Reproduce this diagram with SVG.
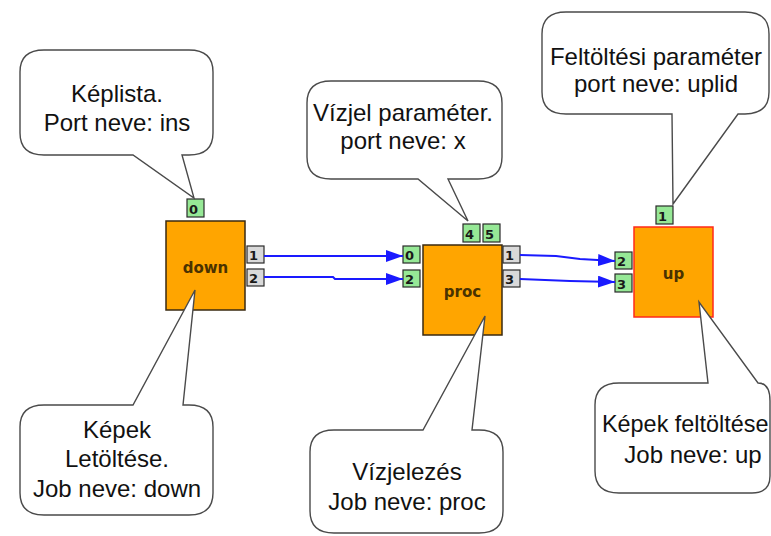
<svg xmlns="http://www.w3.org/2000/svg" width="771" height="536" viewBox="0 0 771 536">
<defs>
<style>
.block{fill:#ffa500;stroke:#3a2a10;stroke-width:1.5}
.block-up{fill:#ffa500;stroke:#ff2a1a;stroke-width:1.5}
.pin{fill:#96e896;stroke:#2a2a2a;stroke-width:1.2}
.pout{fill:#d9d9d9;stroke:#2a2a2a;stroke-width:1.2}
.pl{font-family:"DejaVu Sans",sans-serif;font-size:13px;font-weight:bold;fill:#1a1a1a}
.bl{font-family:"DejaVu Sans",sans-serif;font-size:15px;font-weight:bold;fill:#4a3200;text-anchor:middle}
.bubble{fill:#ffffff;stroke:#4a4a4a;stroke-width:1.4;stroke-linejoin:miter}
.bt{font-family:"Liberation Sans",Arial,sans-serif;font-size:24px;fill:#111;text-anchor:middle}
.conn{fill:none;stroke:#1a1aff;stroke-width:2}
</style>
<marker id="arr" markerUnits="userSpaceOnUse" markerWidth="18" markerHeight="13" refX="17" refY="6" orient="auto">
<path d="M0,0 L17,6 L0,12 Z" fill="#1a1aff"/>
</marker>
</defs>
<rect width="771" height="536" fill="#ffffff"/>

<g id="node-down">
<rect class="block" x="166" y="221" width="79" height="89"/>
<text class="bl" x="205.5" y="273">down</text>
<rect class="pin" x="187" y="199" width="17" height="18"/><text class="pl" x="189" y="214">0</text>
<rect class="pout" x="247" y="246" width="17" height="17"/><text class="pl" x="249" y="260">1</text>
<rect class="pout" x="247" y="269" width="17" height="17"/><text class="pl" x="249" y="283">2</text>
</g>

<g id="node-proc">
<rect class="block" x="423" y="245" width="79" height="90"/>
<text class="bl" x="462.5" y="297">proc</text>
<rect class="pin" x="403" y="246" width="17" height="17"/><text class="pl" x="405" y="260">0</text>
<rect class="pin" x="403" y="270" width="17" height="17"/><text class="pl" x="405" y="284">2</text>
<rect class="pin" x="463" y="224" width="17" height="18"/><text class="pl" x="465" y="239">4</text>
<rect class="pin" x="483" y="224" width="17" height="18"/><text class="pl" x="485" y="239">5</text>
<rect class="pout" x="503" y="246" width="17" height="17"/><text class="pl" x="505" y="260">1</text>
<rect class="pout" x="503" y="270" width="17" height="17"/><text class="pl" x="505" y="284">3</text>
</g>

<g id="node-up">
<rect class="block-up" x="634" y="227" width="79" height="90"/>
<text class="bl" x="673.5" y="279">up</text>
<rect class="pin" x="656" y="206" width="17" height="18"/><text class="pl" x="658" y="221">1</text>
<rect class="pin" x="615" y="252" width="17" height="17"/><text class="pl" x="617" y="266">2</text>
<rect class="pin" x="615" y="274" width="17" height="18"/><text class="pl" x="617" y="289">3</text>
</g>

<g id="connectors">
<path class="conn" d="M264,256 H403" marker-end="url(#arr)"/>
<path class="conn" d="M264,277 H333 L335,279 H403" marker-end="url(#arr)"/>
<path class="conn" d="M520,255 L556,256 L580,259 L615,261" marker-end="url(#arr)"/>
<path class="conn" d="M520,279 L545,280 L570,281 L615,282" marker-end="url(#arr)"/>
</g>

<g id="callout-kepilista">
<path class="bubble" d="M44,50 H189 Q213,50 213,72 V133 Q213,155 189,155 H182 L194,198 L133,155 H44 Q20,155 20,133 V72 Q20,50 44,50 Z"/>
<text class="bt" x="117" y="102">Képlista.</text>
<text class="bt" x="117" y="131">Port neve: ins</text>
</g>

<g id="callout-vizjel">
<path class="bubble" d="M331,81 H478 Q502,81 502,103 V157 Q502,179 478,179 H448 L468,221 L418,179 H331 Q307,179 307,157 V103 Q307,81 331,81 Z"/>
<text class="bt" x="403" y="121">Vízjel paraméter.</text>
<text class="bt" x="403" y="149">port neve: x</text>
</g>

<g id="callout-feltoltesi">
<path class="bubble" d="M566,12 H745 Q769,12 769,34 V92 Q769,114 745,114 H738 L673,204 L672,114 H566 Q542,114 542,92 V34 Q542,12 566,12 Z"/>
<text class="bt" x="656" y="65">Feltöltési paraméter</text>
<text class="bt" x="656" y="92">port neve: uplid</text>
</g>

<g id="callout-down">
<path class="bubble" d="M44,405 H133 L195,290 L183,405 H189 Q213,405 213,427 V493 Q213,515 189,515 H44 Q20,515 20,493 V427 Q20,405 44,405 Z"/>
<text class="bt" x="117" y="438">Képek</text>
<text class="bt" x="117" y="467">Letöltése.</text>
<text class="bt" x="117" y="497">Job neve: down</text>
</g>

<g id="callout-proc">
<path class="bubble" d="M334,430 H423 L485,316 L472,430 H479 Q503,430 503,452 V511 Q503,533 479,533 H334 Q310,533 310,511 V452 Q310,430 334,430 Z"/>
<text class="bt" x="407" y="480">Vízjelezés</text>
<text class="bt" x="407" y="510">Job neve: proc</text>
</g>

<g id="callout-up">
<path class="bubble" d="M619,383 H708 L699,302 L758,383 Q770,383 770,401 V476 Q770,493 752,493 H619 Q595,493 595,471 V405 Q595,383 619,383 Z"/>
<text class="bt" x="602" y="432" style="text-anchor:start;font-size:23.4px">Képek feltöltése</text>
<text class="bt" x="693" y="463">Job neve: up</text>
</g>
</svg>
